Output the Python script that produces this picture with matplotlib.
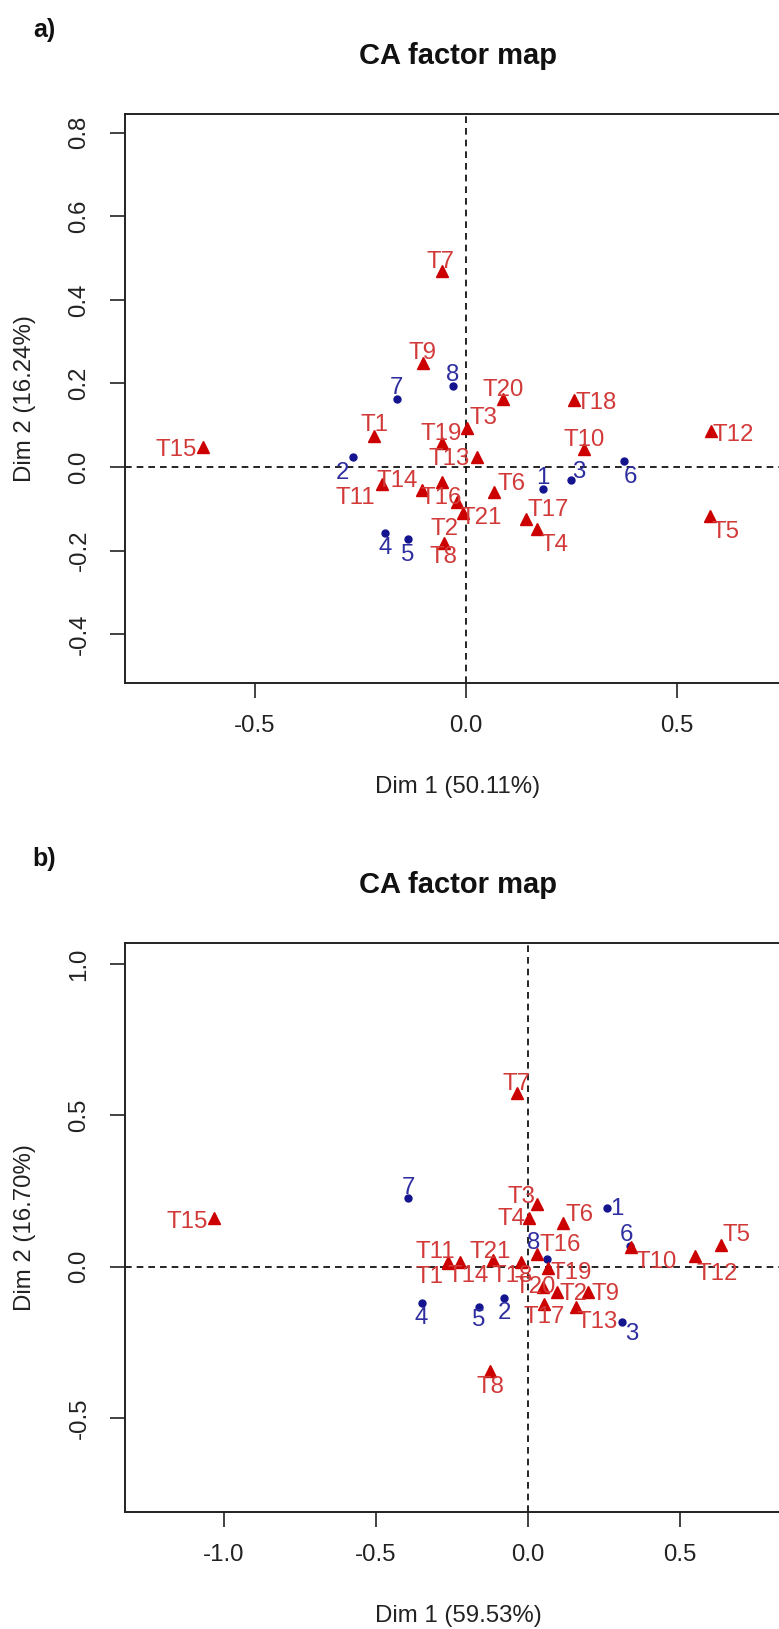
import matplotlib
matplotlib.use('Agg')
import matplotlib.pyplot as plt

plt.rcParams['font.family'] = ['Liberation Sans', 'DejaVu Sans']

# ---- panel a data (Dim 1 50.11%, Dim 2 16.24%) ----
a_row_labels = ['1', '2', '3', '4', '5', '6', '7', '8']
a_row_x = [0.183, -0.267, 0.248, -0.192, -0.138, 0.375, -0.164, -0.032]
a_row_y = [-0.053, 0.025, -0.031, -0.159, -0.172, 0.015, 0.164, 0.194]

a_col_labels = ['T1', 'T2', 'T3', 'T4', 'T5', 'T6', 'T7', 'T8', 'T9', 'T10', 'T11',
                'T12', 'T13', 'T14', 'T15', 'T16', 'T17', 'T18', 'T19', 'T20', 'T21']
a_col_x = [-0.218, -0.008, 0.002, 0.169, 0.578, 0.067, -0.056, -0.053, -0.103, 0.280, -0.200,
           0.580, 0.025, -0.105, -0.623, -0.058, 0.141, 0.255, -0.058, 0.088, -0.022]
a_col_y = [0.075, -0.111, 0.093, -0.149, -0.117, -0.059, 0.468, -0.182, 0.248, 0.043, -0.041,
           0.086, 0.023, -0.055, 0.049, -0.035, -0.125, 0.160, 0.058, 0.162, -0.083]

# ---- panel b data (Dim 1 59.53%, Dim 2 16.70%) ----
b_row_labels = ['1', '2', '3', '4', '5', '6', '7', '8']
b_row_x = [0.261, -0.079, 0.308, -0.350, -0.163, 0.335, -0.394, 0.061]
b_row_y = [0.195, -0.104, -0.182, -0.121, -0.132, 0.070, 0.226, 0.024]

b_col_labels = a_col_labels
b_col_x = [-0.262, 0.094, 0.029, 0.004, 0.634, 0.114, -0.037, -0.125, 0.198, 0.338, -0.265,
           0.549, 0.158, -0.224, -1.034, 0.031, 0.053, -0.024, 0.067, 0.050, -0.114]
b_col_y = [0.013, -0.083, 0.207, 0.160, 0.072, 0.145, 0.574, -0.344, -0.083, 0.066, 0.017,
           0.035, -0.132, 0.017, 0.160, 0.042, -0.123, 0.017, -0.005, -0.066, 0.022]

# label offsets from the point, in pixels (right, up)
a_row_off = [(0, 11), (-11, -16), (8, 8), (0, -15), (0, -16), (6, -16), (0, 10.5), (0, 10.5)]
a_col_off = [(0, 10.5), (-18, -16), (17, 10), (17, -16), (16, -16.5), (17, 8), (-2, 9), (0, -14),
             (0, 10), (0, 9.5), (-26, -14), (22, -3.5), (-27, -2), (-25, 9), (-27, -3.5),
             (0, -16), (23, 9.5), (22, -3), (0, 9), (0, 9), (24, -16)]
b_row_off = [(9, -1), (0, -15), (10, -12), (0, -15), (0, -13), (-3, 10.5), (0, 10), (-13, 16)]
b_col_off = [(-19, -14), (17, -2), (-15, 7), (-18, -1), (16, 10), (17, 8), (0, 9), (0, -16),
             (17, -2), (25, -15), (-12, 10), (22, -18), (21, -15), (8, -14), (-27, -3.5),
             (23, 9), (0, -13), (-9, -14), (23, -5), (-8, 0), (-3, 8)]

W, H = 779, 1629
PX = 0.72  # points per pixel at dpi 100

fig = plt.figure(figsize=(W / 100, H / 100), dpi=100)

ROW_DOT = '#14148f'
ROW_TXT = '#2e2ea0'
COL_TRI = '#cc0000'
COL_TXT = '#d23a3a'
FS = 17.3


def ca_panel(top, bottom, xlim, ylim, xticks, yticks, xlab, ylab, tag,
             rlab, rx, ry, roff, clab, cx, cy, coff):
    left, right = 125, 791
    ax = fig.add_axes([left / W, 1 - bottom / H, (right - left) / W, (bottom - top) / H])
    ax.set_xlim(xlim)
    ax.set_ylim(ylim)
    ax.axhline(0, color='black', lw=1.2, ls=(0, (4, 3)), zorder=1)
    ax.axvline(0, color='black', lw=1.2, ls=(0, (4, 3)), zorder=1)

    ax.plot(rx, ry, 'o', color=ROW_DOT, ms=5, zorder=3)
    ax.plot(cx, cy, '^', color=COL_TRI, ms=8.5, mec=COL_TRI, zorder=4)

    for lab, x, y, (dx, dy) in zip(rlab, rx, ry, roff):
        ax.annotate(lab, (x, y), xytext=(dx * PX, dy * PX), textcoords='offset points',
                    ha='center', va='center', fontsize=FS, color=ROW_TXT, zorder=5)
    for lab, x, y, (dx, dy) in zip(clab, cx, cy, coff):
        ax.annotate(lab, (x, y), xytext=(dx * PX, dy * PX), textcoords='offset points',
                    ha='center', va='center', fontsize=FS, color=COL_TXT, zorder=5)

    ax.set_xticks(xticks)
    ax.set_yticks(yticks)
    ax.set_xticklabels(['%.1f' % v for v in xticks])
    ax.set_yticklabels(['%.1f' % v for v in yticks], rotation=90, va='center')
    ax.tick_params(direction='out', length=15 * PX, width=1.2, color='#222222',
                   labelsize=FS, labelcolor='#222222')
    ax.tick_params(axis='x', pad=12)
    ax.tick_params(axis='y', pad=14)
    for s in ax.spines.values():
        s.set_color('#222222')
        s.set_linewidth(1.4)

    ax.set_xlabel(xlab, fontsize=FS, color='#222222')
    ax.xaxis.set_label_coords(0.5, -104 / (bottom - top))
    ax.xaxis.label.set_va('center')
    ax.set_ylabel(ylab, fontsize=FS, color='#222222')
    ax.yaxis.set_label_coords(-100 / (right - left), 0.5)
    ax.yaxis.label.set_va('center')

    ax.text(0.5, 1 + 58 / (bottom - top), 'CA factor map', transform=ax.transAxes,
            ha='center', va='center', fontsize=21, fontweight='bold', color='#111111')
    fig.text(44 / W, 1 - (top - 84) / H, tag, ha='center', va='center',
             fontsize=18, fontweight='bold', color='#111111')
    return ax


ca_panel(114, 683, (-0.808, 0.770), (-0.517, 0.845),
         [-0.5, 0.0, 0.5], [-0.4, -0.2, 0.0, 0.2, 0.4, 0.6, 0.8],
         'Dim 1 (50.11%)', 'Dim 2 (16.24%)', 'a)',
         a_row_labels, a_row_x, a_row_y, a_row_off,
         a_col_labels, a_col_x, a_col_y, a_col_off)

ca_panel(943, 1512, (-1.326, 0.865), (-0.810, 1.069),
         [-1.0, -0.5, 0.0, 0.5], [-0.5, 0.0, 0.5, 1.0],
         'Dim 1 (59.53%)', 'Dim 2 (16.70%)', 'b)',
         b_row_labels, b_row_x, b_row_y, b_row_off,
         b_col_labels, b_col_x, b_col_y, b_col_off)

fig.savefig('out.png', dpi=100, facecolor='white')
